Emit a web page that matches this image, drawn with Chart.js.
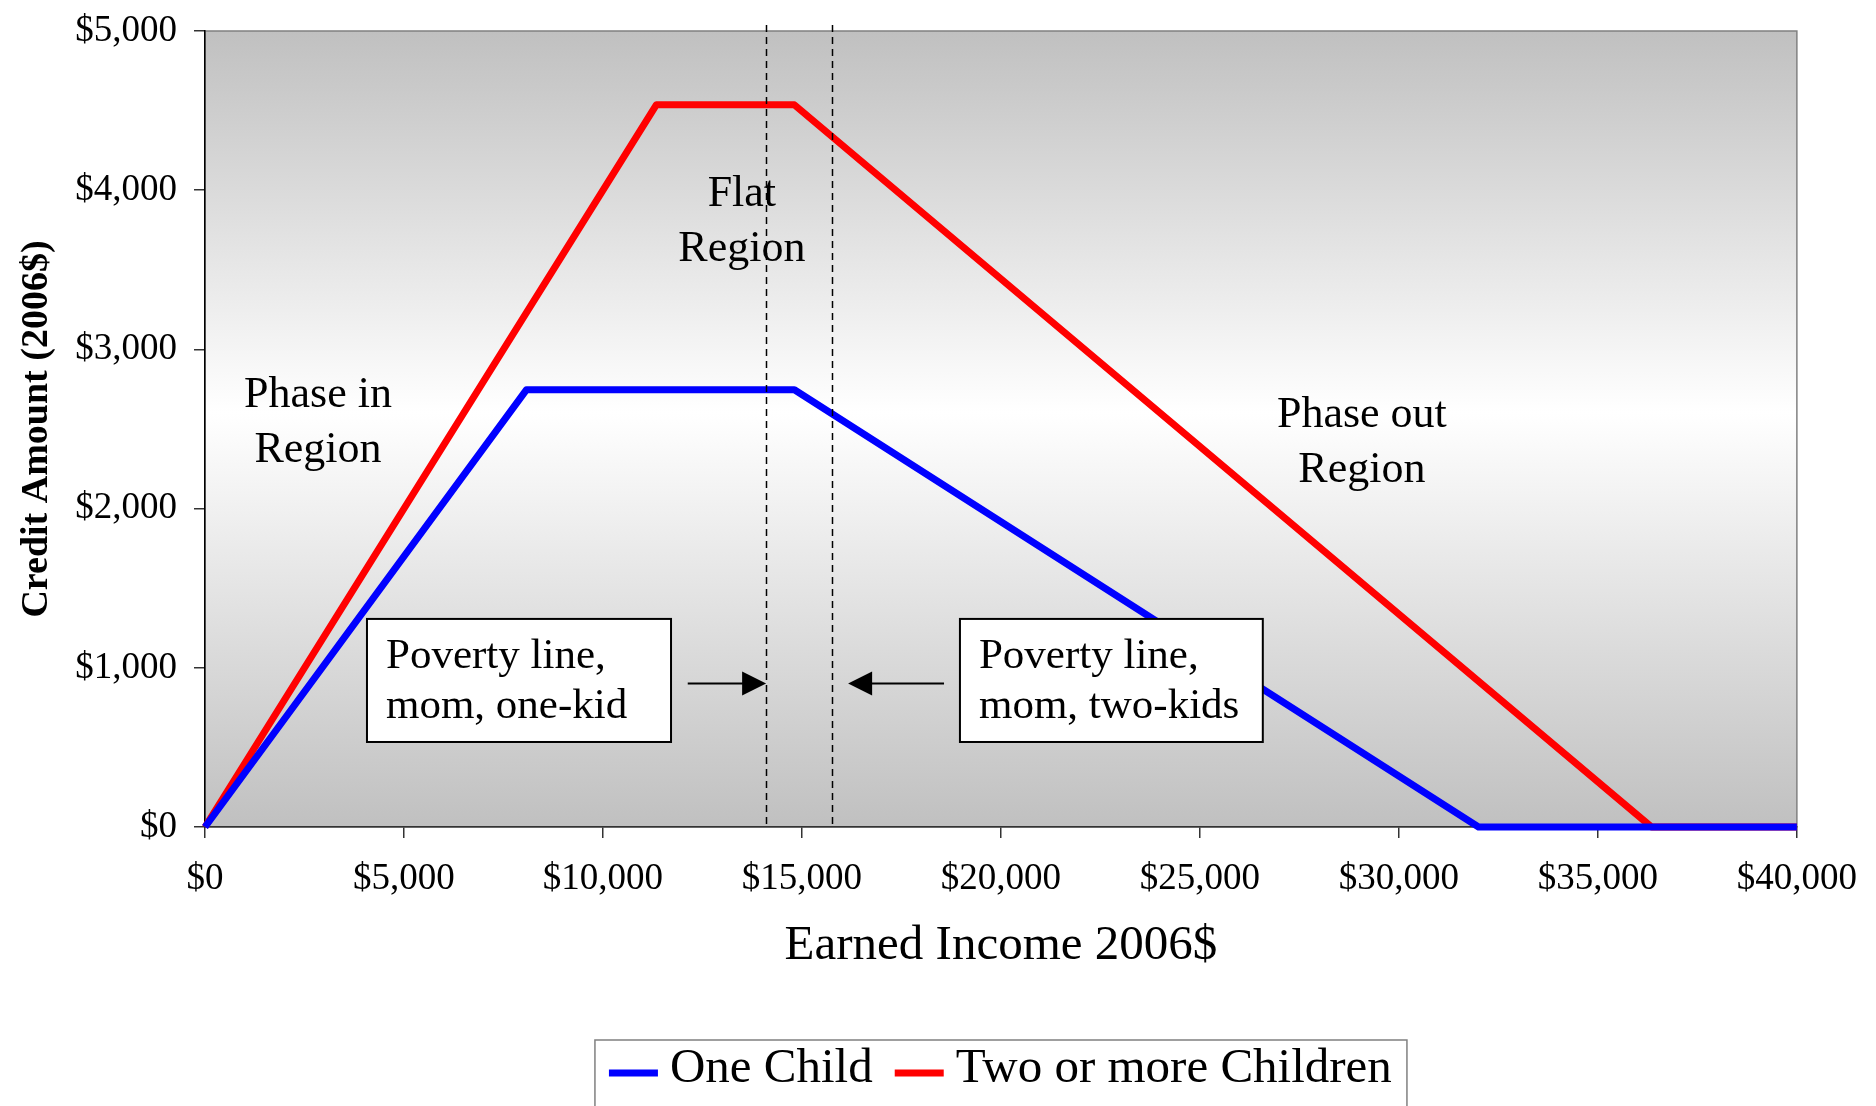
<!DOCTYPE html>
<html lang="en">

<head>
  <meta charset="UTF-8" />
  <title>EITC by earned income, 2006</title>
  <script src="https://cdn.jsdelivr.net/npm/chart.js"></script>
  <style>
    * {
      box-sizing: border-box;
      margin: 0;
      padding: 0;
    }

    body {
      background: #ffffff;
      width: 1876px;
      height: 1106px;
      overflow: hidden;
    }

    canvas {
      display: block;
    }
  </style>
</head>

<body>
  <canvas id="eitcChart" width="1876" height="1106"></canvas>

  <script>
    // credit schedule, 2006 dollars (kink points)
    const oneChildIncome = [0, 8080, 14810, 32001, 40000];
    const oneChildCredit = [0, 2747, 2747, 0, 0];
    const twoChildIncome = [0, 11340, 14810, 36348, 40000];
    const twoChildCredit = [0, 4536, 4536, 0, 0];

    const seriesNames = ['One Child', 'Two or more Children'];
    const seriesColors = ['#0000ff', '#ff0000'];

    // poverty lines (dashed verticals)
    const povertyLines = [14100, 15750];

    const xTicks = [0, 5000, 10000, 15000, 20000, 25000, 30000, 35000, 40000];
    const yTicks = [0, 1000, 2000, 3000, 4000, 5000];

    const serif = '"Liberation Serif", "Times New Roman", Times, serif';
    const money = v => '$' + Number(v).toLocaleString('en-US');

    function toPoints(xs, ys) {
      return xs.map((x, i) => ({ x: x, y: ys[i] }));
    }

    // gradient plot background + frame
    const backgroundPlugin = {
      id: 'plotBackground',
      beforeDraw(chart) {
        const { ctx, chartArea: a } = chart;
        const g = ctx.createLinearGradient(0, a.top, 0, a.bottom);
        g.addColorStop(0, '#c0c0c0');
        g.addColorStop(0.48, '#ffffff');
        g.addColorStop(1, '#c0c0c0');
        ctx.save();
        ctx.fillStyle = g;
        ctx.fillRect(a.left, a.top, a.right - a.left, a.bottom - a.top);
        ctx.strokeStyle = '#808080';
        ctx.lineWidth = 1.5;
        ctx.strokeRect(a.left, a.top, a.right - a.left, a.bottom - a.top);
        ctx.restore();
      }
    };

    // region labels, poverty boxes and arrows
    const notesPlugin = {
      id: 'notes',
      afterDatasetsDraw(chart) {
        const { ctx, chartArea: a } = chart;
        const xs = chart.scales.x, ys = chart.scales.y;
        ctx.save();

        // dashed poverty lines
        ctx.strokeStyle = '#000';
        ctx.lineWidth = 1.5;
        ctx.setLineDash([7, 5]);
        povertyLines.forEach(v => {
          const px = Math.round(xs.getPixelForValue(v)) + 0.5;
          ctx.beginPath();
          ctx.moveTo(px, a.top - 6);
          ctx.lineTo(px, a.bottom);
          ctx.stroke();
        });
        ctx.setLineDash([]);

        // region labels
        ctx.fillStyle = '#000';
        ctx.font = '44px ' + serif;
        ctx.textAlign = 'center';
        ctx.textBaseline = 'middle';
        const regions = [
          { lines: ['Phase in', 'Region'], x: 2840, y: 2541 },
          { lines: ['Flat', 'Region'], x: 13490, y: 3803 },
          { lines: ['Phase out', 'Region'], x: 29070, y: 2415 }
        ];
        regions.forEach(r => {
          const cx = xs.getPixelForValue(r.x);
          const cy = ys.getPixelForValue(r.y);
          ctx.fillText(r.lines[0], cx, cy - 27);
          ctx.fillText(r.lines[1], cx, cy + 28);
        });

        // text boxes
        const boxes = [
          { lines: ['Poverty line,', 'mom, one-kid'], x0: 4070, x1: 11710 },
          { lines: ['Poverty line,', 'mom, two-kids'], x0: 18970, x1: 26580 }
        ];
        const boxTop = ys.getPixelForValue(1307);
        const boxBottom = ys.getPixelForValue(534);
        ctx.textAlign = 'left';
        ctx.font = '43px ' + serif;
        boxes.forEach(b => {
          const l = xs.getPixelForValue(b.x0);
          const r = xs.getPixelForValue(b.x1);
          ctx.fillStyle = '#fff';
          ctx.fillRect(l, boxTop, r - l, boxBottom - boxTop);
          ctx.strokeStyle = '#000';
          ctx.lineWidth = 2;
          ctx.strokeRect(l, boxTop, r - l, boxBottom - boxTop);
          ctx.fillStyle = '#000';
          const mid = (boxTop + boxBottom) / 2;
          ctx.fillText(b.lines[0], l + 19, mid - 24);
          ctx.fillText(b.lines[1], l + 19, mid + 26);
        });

        // arrows pointing at the poverty lines
        const arrows = [
          { from: 12130, to: 14100 },
          { from: 18570, to: 16160 }
        ];
        const ay = Math.round(ys.getPixelForValue(905)) + 0.5;
        arrows.forEach(ar => {
          const x0 = xs.getPixelForValue(ar.from);
          const x1 = xs.getPixelForValue(ar.to);
          const dir = x1 > x0 ? 1 : -1;
          ctx.strokeStyle = '#000';
          ctx.lineWidth = 2;
          ctx.beginPath();
          ctx.moveTo(x0, ay);
          ctx.lineTo(x1 - dir * 20, ay);
          ctx.stroke();
          ctx.fillStyle = '#000';
          ctx.beginPath();
          ctx.moveTo(x1, ay);
          ctx.lineTo(x1 - dir * 24, ay - 12);
          ctx.lineTo(x1 - dir * 24, ay + 12);
          ctx.closePath();
          ctx.fill();
        });

        ctx.restore();
      },

      // legend box at the bottom
      afterDraw(chart) {
        const { ctx, chartArea: a } = chart;
        const cx = (a.left + a.right) / 2;
        const boxW = 812, boxTop = 1040;
        const left = cx - boxW / 2;
        ctx.save();
        ctx.fillStyle = '#fff';
        ctx.fillRect(left, boxTop, boxW, 100);
        ctx.strokeStyle = '#808080';
        ctx.lineWidth = 1.5;
        ctx.strokeRect(left, boxTop, boxW, 100);

        ctx.font = '49px ' + serif;
        ctx.textAlign = 'left';
        ctx.textBaseline = 'middle';
        let x = left + 14;
        const ty = 1069;
        seriesNames.forEach((name, i) => {
          ctx.strokeStyle = seriesColors[i];
          ctx.lineWidth = 7;
          ctx.beginPath();
          ctx.moveTo(x, 1073);
          ctx.lineTo(x + 49, 1073);
          ctx.stroke();
          x += 61;
          ctx.fillStyle = '#000';
          ctx.fillText(name, x, ty);
          x += ctx.measureText(name).width + 22;
        });
        ctx.restore();
      }
    };

    const eitcChart = new Chart(document.getElementById('eitcChart'), {
      type: 'line',
      data: {
        datasets: [
          {
            label: seriesNames[0],
            data: toPoints(oneChildIncome, oneChildCredit),
            borderColor: seriesColors[0],
            backgroundColor: seriesColors[0],
            borderWidth: 7,
            borderJoinStyle: 'round',
            pointRadius: 0,
            tension: 0,
            fill: false
          },
          {
            label: seriesNames[1],
            data: toPoints(twoChildIncome, twoChildCredit),
            borderColor: seriesColors[1],
            backgroundColor: seriesColors[1],
            borderWidth: 7,
            borderJoinStyle: 'round',
            pointRadius: 0,
            tension: 0,
            fill: false
          }
        ]
      },
      options: {
        responsive: false,
        animation: false,
        clip: false,
        layout: { padding: { left: 0, top: 31, right: 79, bottom: 119 } },
        plugins: {
          legend: { display: false },
          tooltip: { enabled: false }
        },
        scales: {
          x: {
            type: 'linear',
            min: 0,
            max: 40000,
            afterFit(scale) { scale.height = 160; },
            afterBuildTicks(scale) { scale.ticks = xTicks.map(v => ({ value: v })); },
            ticks: {
              callback: v => money(v),
              font: { family: serif, size: 37 },
              color: '#000',
              padding: 19,
              maxRotation: 0,
              autoSkip: false
            },
            grid: { drawOnChartArea: false, drawTicks: true, tickLength: 11, color: '#333', lineWidth: 1.5 },
            border: { color: '#333', width: 1.5 },
            title: {
              display: true,
              text: 'Earned Income 2006$',
              font: { family: serif, size: 49 },
              color: '#000',
              padding: { top: 0, bottom: 11 }
            }
          },
          y: {
            min: 0,
            max: 5000,
            afterFit(scale) {
              scale.width = 205;
              scale.paddingTop = 0;
              scale.paddingBottom = 0;
            },
            afterBuildTicks(scale) { scale.ticks = yTicks.map(v => ({ value: v })); },
            ticks: {
              callback: v => money(v),
              font: { family: serif, size: 37 },
              color: '#000',
              padding: 17
            },
            grid: { drawOnChartArea: false, drawTicks: true, tickLength: 11, color: '#333', lineWidth: 1.5 },
            border: { color: '#000', width: 1.5 },
            title: {
              display: true,
              text: 'Credit Amount (2006$)',
              font: { family: serif, size: 38, weight: 'bold' },
              color: '#000',
              padding: { top: 14, bottom: 0 }
            }
          }
        }
      },
      plugins: [backgroundPlugin, notesPlugin]
    });
  </script>
</body>

</html>
